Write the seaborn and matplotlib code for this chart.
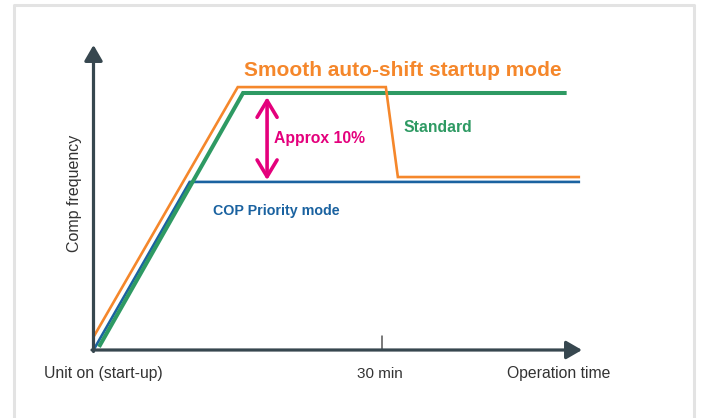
import matplotlib
matplotlib.use("Agg")
import matplotlib.pyplot as plt
from matplotlib.lines import Line2D
import pandas as pd
import seaborn as sns

# Operation time (min) vs. compressor frequency (% of the standard plateau)
standard_time = [0.57, 15.55, 49.2]
standard_freq = [1.2, 100.0, 100.0]
smooth_time = [0.05, 15.0, 30.4, 31.65, 50.6]
smooth_freq = [5.4, 102.3, 102.3, 67.3, 67.3]
cop_time = [0.0, 10.0, 50.6]
cop_freq = [0.0, 65.4, 65.4]

# "Approx 10%" gap marker
gap_time = 18.05
gap_freq = [98.4, 66.1]

tick_time = 30
x_labels = ["Unit on (start-up)", "30 min", "Operation time"]
y_label = "Comp frequency"

ORANGE = "#F5872B"
GREEN = "#2E9A63"
BLUE = "#1A62A0"
MAGENTA = "#E4007C"
AXIS = "#37474F"
TEXT = "#333333"

# layout (pixels of a 702x418 image)
W, H = 702, 418
X0, Y0 = 93.5, 350.0
PX_PER_MIN = (382 - X0) / 30
PX_PER_PCT = 2.57


def fpos(px, py):
    """pixel position -> figure fraction"""
    return px / W, 1 - py / H


sns.set_style("white")
plt.rcParams["font.family"] = ["Liberation Sans", "DejaVu Sans"]

fig = plt.figure(figsize=(W / 100, H / 100), dpi=100)
ax = fig.add_axes([0, 0, 1, 1])
ax.set_xlim(-X0 / PX_PER_MIN, (W - X0) / PX_PER_MIN)
ax.set_ylim(-(H - Y0) / PX_PER_PCT, Y0 / PX_PER_PCT)
ax.axis("off")

series = [
    (cop_time, cop_freq, BLUE, 1.9),
    (standard_time, standard_freq, GREEN, 2.9),
    (smooth_time, smooth_freq, ORANGE, 1.9),
]
for t, f, color, lw in series:
    df = pd.DataFrame({"time": t, "freq": f})
    sns.lineplot(data=df, x="time", y="freq", ax=ax, color=color, linewidth=lw,
                 sort=False, estimator=None, solid_joinstyle="miter",
                 solid_capstyle="butt")

# axes with arrow heads
x_tip = (582 - X0) / PX_PER_MIN
y_tip = (Y0 - 45) / PX_PER_PCT
corner = 1.5 / PX_PER_MIN
head = dict(arrowstyle="-|>,head_length=0.95,head_width=0.55", mutation_scale=10,
            lw=2.3, color=AXIS, shrinkA=0, shrinkB=0)
ax.annotate("", xy=(x_tip, 0), xytext=(-corner, 0), arrowprops=head,
            annotation_clip=False)
ax.annotate("", xy=(0, y_tip), xytext=(0, -1.5 / PX_PER_PCT), arrowprops=head,
            annotation_clip=False)
ax.plot([tick_time, tick_time], [0, 14 / PX_PER_PCT], color="#555555", lw=1.1)

# gap arrow
ax.annotate("", xy=(gap_time, gap_freq[0]), xytext=(gap_time, gap_freq[1]),
            arrowprops=dict(arrowstyle="<->,head_length=0.6,head_width=0.36",
                            mutation_scale=20, lw=2.6, color=MAGENTA,
                            shrinkA=0, shrinkB=0))

# texts
fig.text(*fpos(402.5, 76), "Smooth auto-shift startup mode", color=ORANGE,
         fontsize=15, fontweight="bold", ha="center", va="baseline")
fig.text(*fpos(274, 143), "Approx 10%", color=MAGENTA, fontsize=11.3,
         fontweight="bold", ha="left", va="baseline")
fig.text(*fpos(404, 132.3), "Standard", color=GREEN, fontsize=11.3,
         fontweight="bold", ha="left", va="baseline")
fig.text(*fpos(212.7, 215.5), "COP Priority mode", color=BLUE, fontsize=10.3,
         fontweight="bold", ha="left", va="baseline")

fig.text(*fpos(44, 378), x_labels[0], color=TEXT, fontsize=11.3, ha="left",
         va="baseline")
fig.text(*fpos(380, 378), x_labels[1], color=TEXT, fontsize=11, ha="center",
         va="baseline")
fig.text(*fpos(506.7, 378), x_labels[2], color=TEXT, fontsize=11.3, ha="left",
         va="baseline")
fig.text(*fpos(74, 193), y_label, color=TEXT, fontsize=11.5, rotation=90,
         ha="center", va="center")

# light frame round the picture (open at the bottom)
fx = [13.5 / W, 13.5 / W, 694 / W, 694 / W]
fy = [-0.1, 1 - 5 / H, 1 - 5 / H, -0.1]
fig.add_artist(Line2D(fx, fy, transform=fig.transFigure, color="#E3E3E3", lw=2.2))

fig.savefig("out.png", dpi=100)
